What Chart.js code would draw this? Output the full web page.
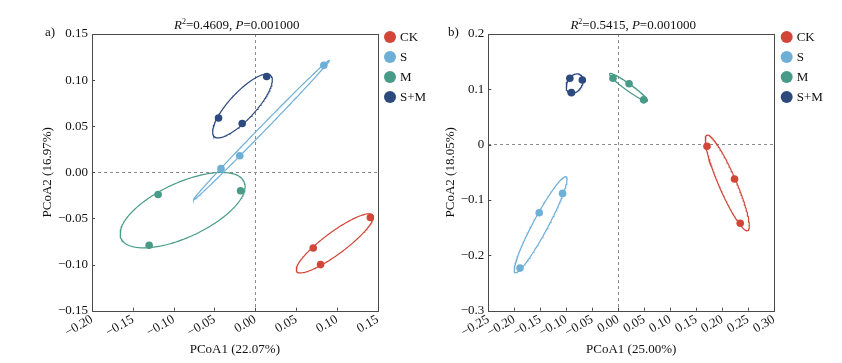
<!DOCTYPE html>
<html><head><meta charset="utf-8">
<script src="https://cdn.jsdelivr.net/npm/chart.js@4"></script>
<style>html,body{margin:0;padding:0;background:#fff}#wrap{position:relative;width:842px;height:363px}canvas{position:absolute;top:0}</style>
</head><body>
<div id="wrap"><canvas id="ca" width="445" height="363" style="left:0"></canvas><canvas id="cb" width="421" height="363" style="left:421px"></canvas></div>
<script>
// ---- data ----
const groups = ['CK', 'S', 'M', 'S+M'];
const groupColors = ['#D2463A', '#6DAFD7', '#489B88', '#2D4A7F'];

// panel a (PCoA1 22.07%, PCoA2 16.97%)
const aCK_x = [0.141, 0.071, 0.080];   const aCK_y = [-0.049, -0.082, -0.100];
const aS_x  = [0.084, -0.019, -0.042]; const aS_y  = [0.116, 0.018, 0.004];
const aM_x  = [-0.119, -0.018, -0.130];const aM_y  = [-0.024, -0.020, -0.079];
const aSM_x = [0.014, -0.045, -0.016]; const aSM_y = [0.104, 0.059, 0.053];

// panel b (PCoA1 25.00%, PCoA2 18.05%)
const bCK_x = [0.171, 0.224, 0.235];   const bCK_y = [-0.003, -0.062, -0.142];
const bS_x  = [-0.107, -0.152, -0.189];const bS_y  = [-0.088, -0.123, -0.223];
const bM_x  = [-0.010, 0.021, 0.049];  const bM_y  = [0.120, 0.110, 0.081];
const bSM_x = [-0.093, -0.069, -0.090];const bSM_y = [0.120, 0.117, 0.094];

const titleA = {r2: '0.4609', p: '0.001000'};
const titleB = {r2: '0.5415', p: '0.001000'};
const axisA = {x: 'PCoA1 (22.07%)', y: 'PCoA2 (16.97%)'};
const axisB = {x: 'PCoA1 (25.00%)', y: 'PCoA2 (18.05%)'};

// ---- helpers ----
const FONT = '"Liberation Serif", "Times New Roman", serif';
const ELL_K = 1.24;
function ellipse(xs, ys) {
  const n = xs.length;
  const mx = xs.reduce((a, b) => a + b, 0) / n, my = ys.reduce((a, b) => a + b, 0) / n;
  let a = 0, b = 0, c = 0;
  for (let i = 0; i < n; i++) { const dx = xs[i] - mx, dy = ys[i] - my; a += dx * dx; b += dx * dy; c += dy * dy; }
  a /= (n - 1); b /= (n - 1); c /= (n - 1);
  const m = (a + c) / 2, d = Math.sqrt(((a - c) / 2) ** 2 + b * b);
  const l1 = m + d, l2 = Math.max(m - d, 0);
  const th = 0.5 * Math.atan2(2 * b, a - c);
  const r1 = ELL_K * Math.sqrt(l1), r2 = ELL_K * Math.sqrt(l2);
  const pts = [];
  for (let i = 0; i <= 200; i++) {
    const t = i / 200 * 2 * Math.PI;
    const u = r1 * Math.cos(t), v = r2 * Math.sin(t);
    pts.push({x: mx + u * Math.cos(th) - v * Math.sin(th), y: my + u * Math.sin(th) + v * Math.cos(th)});
  }
  return pts;
}
function fmt(v, dec) {
  if (Math.abs(v) < 1e-9) return dec === 1 ? '0' : (0).toFixed(dec);
  return (v < 0 ? '\u2212' : '') + Math.abs(v).toFixed(dec);
}

const framePlugin = {
  id: 'frame',
  afterDraw(chart, args, opts) {
    const ctx = chart.ctx, ca = chart.chartArea;
    ctx.save();
    // frame
    ctx.strokeStyle = '#4a4a4a'; ctx.lineWidth = 1;
    ctx.strokeRect(Math.round(ca.left) + 0.5, Math.round(ca.top) + 0.5, Math.round(ca.right - ca.left), Math.round(ca.bottom - ca.top));
    // inward tick marks
    const xs = chart.scales.x, ys = chart.scales.y;
    ctx.beginPath();
    xs.ticks.forEach(t => { const px = Math.round(xs.getPixelForValue(t.value)) + 0.5; ctx.moveTo(px, ca.bottom); ctx.lineTo(px, ca.bottom - 3); });
    ys.ticks.forEach(t => { const py = Math.round(ys.getPixelForValue(t.value)) + 0.5; ctx.moveTo(ca.left, py); ctx.lineTo(ca.left + 3, py); });
    ctx.stroke();
    // title with italics and superscript
    const tt = opts.title;
    const segs = [
      {t: 'R', f: 'italic 13px ' + FONT, dy: 0},
      {t: '2', f: '8px ' + FONT, dy: -5},
      {t: '=' + tt.r2 + ', ', f: '13px ' + FONT, dy: 0},
      {t: 'P', f: 'italic 13px ' + FONT, dy: 0},
      {t: '=' + tt.p, f: '13px ' + FONT, dy: 0}
    ];
    let tw = 0;
    segs.forEach(s => { ctx.font = s.f; s.w = ctx.measureText(s.t).width; tw += s.w; });
    let x = (ca.left + ca.right) / 2 - tw / 2 + 2;
    ctx.fillStyle = '#111'; ctx.textBaseline = 'alphabetic'; ctx.textAlign = 'left';
    segs.forEach(s => { ctx.font = s.f; ctx.fillText(s.t, x, 29 + s.dy); x += s.w; });
    // panel label
    ctx.font = '13px ' + FONT;
    ctx.fillText(opts.label, opts.labelX, 36);
    // legend
    ctx.textBaseline = 'middle';
    groups.forEach((g, i) => {
      const cy = 37 + i * 20;
      ctx.fillStyle = groupColors[i];
      ctx.beginPath(); ctx.arc(opts.legX, cy, 6, 0, 2 * Math.PI); ctx.fill();
      ctx.fillStyle = '#111';
      ctx.fillText(g, opts.legX + 10, cy + 1);
    });
    ctx.restore();
  }
};

function makeChart(id, sets, cfg) {
  const datasets = [];
  sets.forEach((s, i) => {
    datasets.push({label: groups[i], data: s[0].map((v, j) => ({x: v, y: s[1][j]})),
      backgroundColor: groupColors[i], borderWidth: 0, pointRadius: 3.8, pointHoverRadius: 3.8, order: 0});
  });
  sets.forEach((s, i) => {
    datasets.push({label: groups[i] + ' ellipse', data: ellipse(s[0], s[1]), showLine: true,
      borderColor: groupColors[i], borderWidth: 1.2, pointRadius: 0, fill: false, tension: 0, order: 1});
  });
  const tickFont = {family: FONT, size: 13};
  return new Chart(document.getElementById(id), {
    type: 'scatter',
    data: {datasets},
    plugins: [framePlugin],
    options: {
      responsive: false, animation: false, devicePixelRatio: 1,
      layout: {padding: {left: 0, top: 34, right: cfg.padRight, bottom: 0}},
      plugins: {legend: {display: false}, tooltip: {enabled: false},
        frame: {title: cfg.title, label: cfg.label, labelX: cfg.labelX, legX: cfg.legX}},
      scales: {
        x: {type: 'linear', position: 'bottom', min: cfg.xmin, max: cfg.xmax,
          afterFit: s => { s.height = 52.3; },
          ticks: {stepSize: cfg.xstep, autoSkip: false, minRotation: 30, maxRotation: 30, padding: 1,
            font: tickFont, color: '#111', callback: v => fmt(v, 2)},
          grid: {drawTicks: false, lineWidth: 1, color: c => (c.tick && Math.abs(c.tick.value) < 1e-9) ? '#8a8a8a' : 'rgba(0,0,0,0)'},
          border: {display: false, dash: [3, 3]},
          title: {display: true, text: cfg.axis.x, color: '#111', font: {family: FONT, size: 13}, padding: {top: 0, bottom: 5.2}}
        },
        y: {type: 'linear', position: 'left', min: cfg.ymin, max: cfg.ymax,
          afterFit: s => { s.width = cfg.yWidth; },
          ticks: {stepSize: cfg.ystep, autoSkip: false, padding: 4, font: tickFont, color: '#111', callback: v => fmt(v, cfg.ydec)},
          grid: {drawTicks: false, lineWidth: 1, color: c => (c.tick && Math.abs(c.tick.value) < 1e-9) ? '#8a8a8a' : 'rgba(0,0,0,0)'},
          border: {display: false, dash: [3, 3]},
          title: {display: true, text: cfg.axis.y, color: '#111', font: {family: FONT, size: 13}, padding: {top: cfg.yTitlePad, bottom: 0}}
        }
      }
    }
  });
}

makeChart('ca', [[aCK_x, aCK_y], [aS_x, aS_y], [aM_x, aM_y], [aSM_x, aSM_y]], {
  xmin: -0.2, xmax: 0.15, xstep: 0.05, ymin: -0.15, ymax: 0.15, ystep: 0.05, ydec: 2,
  padRight: 67.3, yWidth: 92, yTitlePad: 39.6, title: titleA, axis: axisA,
  label: 'a)', labelX: 45, legX: 390
});
makeChart('cb', [[bCK_x, bCK_y], [bS_x, bS_y], [bM_x, bM_y], [bSM_x, bSM_y]], {
  xmin: -0.25, xmax: 0.3, xstep: 0.05, ymin: -0.3, ymax: 0.2, ystep: 0.1, ydec: 1,
  padRight: 68, yWidth: 67.3, yTitlePad: 21.6, title: titleB, axis: axisB,
  label: 'b)', labelX: 27, legX: 365.7
});
</script>
</body></html>
